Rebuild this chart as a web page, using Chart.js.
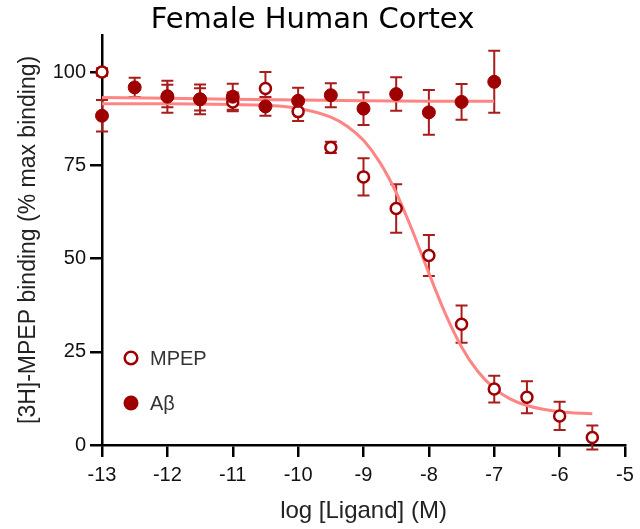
<!DOCTYPE html>
<html>
<head>
<meta charset="utf-8">
<script src="https://cdn.jsdelivr.net/npm/chart.js@4"></script>
<style>
  html, body { margin: 0; padding: 0; background: #fff; }
  #wrap { width: 640px; height: 529px; }
</style>
</head>
<body>
<div id="wrap"><canvas id="c"></canvas></div>
<script>
// x ticks and y ticks
const xTicks = [-13, -12, -11, -10, -9, -8, -7, -6, -5];
const yTicks = [0, 25, 50, 75, 100];

// MPEP (open circles)
const mpepX = [-13, -12, -11.5, -11, -10.5, -10, -9.5, -9, -8.5, -8, -7.5, -7, -6.5, -6, -5.5];
const mpepY = [100, 93.6, 92.7, 92, 95.6, 89.4, 79.8, 71.9, 63.4, 50.8, 32.4, 15, 12.8, 7.8, 2];
const mpepErr = [1, 3, 3, 2.5, 4.4, 2.5, 1.5, 5, 6.5, 5.5, 5, 3.6, 4.3, 3.8, 3.2];

// Abeta (filled circles)
const abX = [-13, -12.5, -12, -11.5, -11, -10.5, -10, -9.5, -9, -8.5, -8, -7.5, -7];
const abY = [88.3, 95.9, 93.4, 92.7, 93.4, 90.8, 92.3, 93.8, 90.2, 94.1, 89.2, 92, 97.4];
const abErr = [4.2, 2.6, 4.3, 4, 3.5, 2.5, 3.5, 3.2, 4.4, 4.5, 6, 4.8, 8.3];

// fitted curves
const mpepFitX = [-13, -12, -11, -10.5, -10, -9.5, -9.25, -9, -8.75, -8.5, -8.25, -8, -7.75, -7.5, -7.25, -7, -6.75, -6.5, -6, -5.5];
const mpepFitY = [91.5, 91.5, 91.3, 91.1, 90.3, 87.9, 85.5, 81.7, 75.8, 67.7, 57.4, 46.1, 35.3, 26.3, 19.7, 15.2, 12.3, 10.6, 8.9, 8.4];
const abFitX = [-13, -12, -11, -10, -9, -8, -7];
const abFitY = [93.2, 93.0, 92.7, 92.5, 92.3, 92.2, 92.2];

const dark = '#9e0000';
const barColor = '#a81c1c';
const fitColor = '#ff8585';
const font = 'Liberation Sans, Arial, sans-serif';

const pts = (xs, ys) => xs.map((x, i) => ({ x, y: ys[i] }));

const errorBars = {
  id: 'errorBars',
  beforeDatasetsDraw(chart) {
    const { ctx, scales: { x, y } } = chart;
    ctx.save();
    ctx.strokeStyle = barColor;
    ctx.lineWidth = 2;
    chart.data.datasets.forEach((ds) => {
      if (!ds.errors) return;
      ds.data.forEach((p, i) => {
        const e = ds.errors[i];
        const px = x.getPixelForValue(p.x);
        const top = y.getPixelForValue(p.y + e);
        const bot = y.getPixelForValue(p.y - e);
        ctx.beginPath();
        ctx.moveTo(px, top); ctx.lineTo(px, bot);
        ctx.moveTo(px - 6, top); ctx.lineTo(px + 6, top);
        ctx.moveTo(px - 6, bot); ctx.lineTo(px + 6, bot);
        ctx.stroke();
      });
    });
    ctx.restore();
  }
};

// legend inside the plot, bottom left
const pointLegend = {
  id: 'pointLegend',
  afterDraw(chart) {
    const { ctx, chartArea } = chart;
    const items = [
      { label: 'MPEP', open: true, dy: -87 },
      { label: 'Aβ', open: false, dy: -42 }
    ];
    ctx.save();
    items.forEach((it) => {
      const cx = chartArea.left + 29;
      const cy = chartArea.bottom + it.dy;
      ctx.beginPath();
      if (it.open) {
        ctx.arc(cx, cy, 6.3, 0, Math.PI * 2);
        ctx.fillStyle = '#fff';
        ctx.fill();
        ctx.lineWidth = 2.5;
        ctx.strokeStyle = dark;
        ctx.stroke();
      } else {
        ctx.arc(cx, cy, 7.5, 0, Math.PI * 2);
        ctx.fillStyle = dark;
        ctx.fill();
      }
      ctx.fillStyle = '#333';
      ctx.font = '20px ' + font;
      ctx.textBaseline = 'middle';
      ctx.fillText(it.label, chartArea.left + 48, cy + 1);
    });
    ctx.restore();
  }
};

const data = {
  datasets: [
    {
      label: 'Aβ fit',
      data: pts(abFitX, abFitY),
      showLine: true,
      pointRadius: 0,
      borderColor: fitColor,
      borderWidth: 3,
      cubicInterpolationMode: 'monotone',
      order: 4,
      clip: false
    },
    {
      label: 'MPEP fit',
      data: pts(mpepFitX, mpepFitY),
      showLine: true,
      pointRadius: 0,
      borderColor: fitColor,
      borderWidth: 3,
      cubicInterpolationMode: 'monotone',
      order: 3,
      clip: false
    },
    {
      label: 'MPEP',
      data: pts(mpepX, mpepY),
      errors: mpepErr,
      pointRadius: 5.5,
      pointBorderWidth: 2.5,
      pointBackgroundColor: '#fff',
      pointBorderColor: dark,
      order: 2,
      clip: false
    },
    {
      label: 'Aβ',
      data: pts(abX, abY),
      errors: abErr,
      pointRadius: 6.5,
      pointBorderWidth: 1,
      pointBackgroundColor: dark,
      pointBorderColor: dark,
      order: 1,
      clip: false
    }
  ]
};

const config = {
  type: 'scatter',
  data: data,
  options: {
    responsive: true,
    maintainAspectRatio: false,
    animation: false,
    layout: { padding: { right: 15 } },
    plugins: {
      legend: { display: false },
      tooltip: { enabled: false },
      title: {
        display: true,
        text: 'Female Human Cortex',
        color: '#000',
        font: { family: 'DejaVu Sans, sans-serif', size: 29, weight: 'normal' },
        padding: { top: 3, bottom: -3 }
      }
    },
    scales: {
      x: {
        type: 'linear',
        min: -13,
        max: -5,
        afterBuildTicks: (s) => { s.ticks = xTicks.map((v) => ({ value: v })); },
        afterFit: (s) => { s.height = 84; },
        border: { display: true, color: '#000', width: 2.5 },
        grid: { drawOnChartArea: false, drawTicks: true, tickLength: 12, color: '#000', lineWidth: 2.5 },
        ticks: { color: '#111', font: { family: font, size: 20 }, padding: 6, maxRotation: 0 },
        title: {
          display: true,
          text: 'log [Ligand] (M)',
          color: '#222',
          font: { family: font, size: 24 },
          padding: { top: 0, bottom: 3 }
        }
      },
      y: {
        type: 'linear',
        min: 0,
        max: 110,
        afterBuildTicks: (s) => { s.ticks = yTicks.map((v) => ({ value: v })); },
        afterFit: (s) => { s.width = 102; },
        border: { display: true, color: '#000', width: 2.5 },
        grid: { drawOnChartArea: false, drawTicks: true, tickLength: 12, color: '#000', lineWidth: 2.5 },
        ticks: { color: '#111', font: { family: font, size: 20 }, padding: 4 },
        title: {
          display: true,
          text: '[3H]-MPEP binding (% max binding)',
          color: '#222',
          font: { family: font, size: 23 },
          padding: { top: 15, bottom: 0 }
        }
      }
    }
  },
  plugins: [errorBars, pointLegend]
};

new Chart(document.getElementById('c'), config);
</script>
</body>
</html>
